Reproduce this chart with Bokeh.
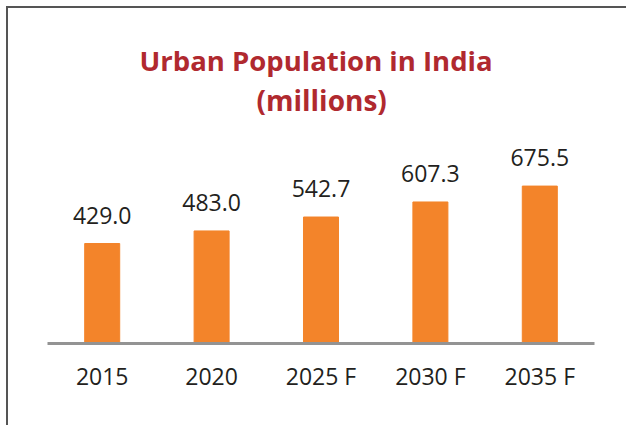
from bokeh.plotting import figure
from bokeh.models import ColumnDataSource, LabelSet, Title, Range1d
from bokeh.core.properties import value
from bokeh.embed import file_html
from bokeh.resources import INLINE

years = ["2015", "2020", "2025 F", "2030 F", "2035 F"]
population = [429.0, 483.0, 542.7, 607.3, 675.5]
labels = [f"{v:.1f}" for v in population]

src = ColumnDataSource(dict(years=years, population=population, labels=labels))

p = figure(x_range=years, y_range=Range1d(0, 914), width=620, height=419,
           output_backend="svg", toolbar_location=None,
           min_border_left=39, min_border_right=34, min_border_top=122, min_border_bottom=84,
           title=None)
p.margin = (6, 0, 0, 6)
p.styles = {"border-left": "2px solid #555555", "border-top": "2px solid #555555"}

p.vbar(x="years", top="population", width=0.32, source=src, color="#f3842a")

ls = LabelSet(x="years", y="population", text="labels", source=src,
              text_align="center", text_baseline="alphabetic", y_offset=20,
              text_font=value("Open Sans"), text_font_size=value("23px"), text_color="#231f20")
p.add_layout(ls)

t2 = Title(text="(millions)", align="left", text_font="Open Sans", text_font_style="bold",
           text_font_size="28px", text_color="#b0292f", standoff=23, offset=209)
t1 = Title(text="Urban Population in India", align="left", text_font="Open Sans", text_font_style="bold",
           text_font_size="27.5px", text_color="#b0292f", standoff=-22, offset=92)
p.add_layout(t2, "above")
p.add_layout(t1, "above")

p.yaxis.visible = False
p.xgrid.visible = False
p.ygrid.visible = False
p.outline_line_color = None
p.xaxis.axis_line_color = "#939393"
p.xaxis.axis_line_width = 3
p.xaxis.major_tick_line_color = None
p.xaxis.minor_tick_line_color = None
p.xaxis.major_label_standoff = 10
p.xaxis.major_label_text_font = "Open Sans"
p.xaxis.major_label_text_font_size = "23px"
p.xaxis.major_label_text_color = "#231f20"
p.x_range.range_padding = 0

open("out.html", "w").write(file_html(p, INLINE))
